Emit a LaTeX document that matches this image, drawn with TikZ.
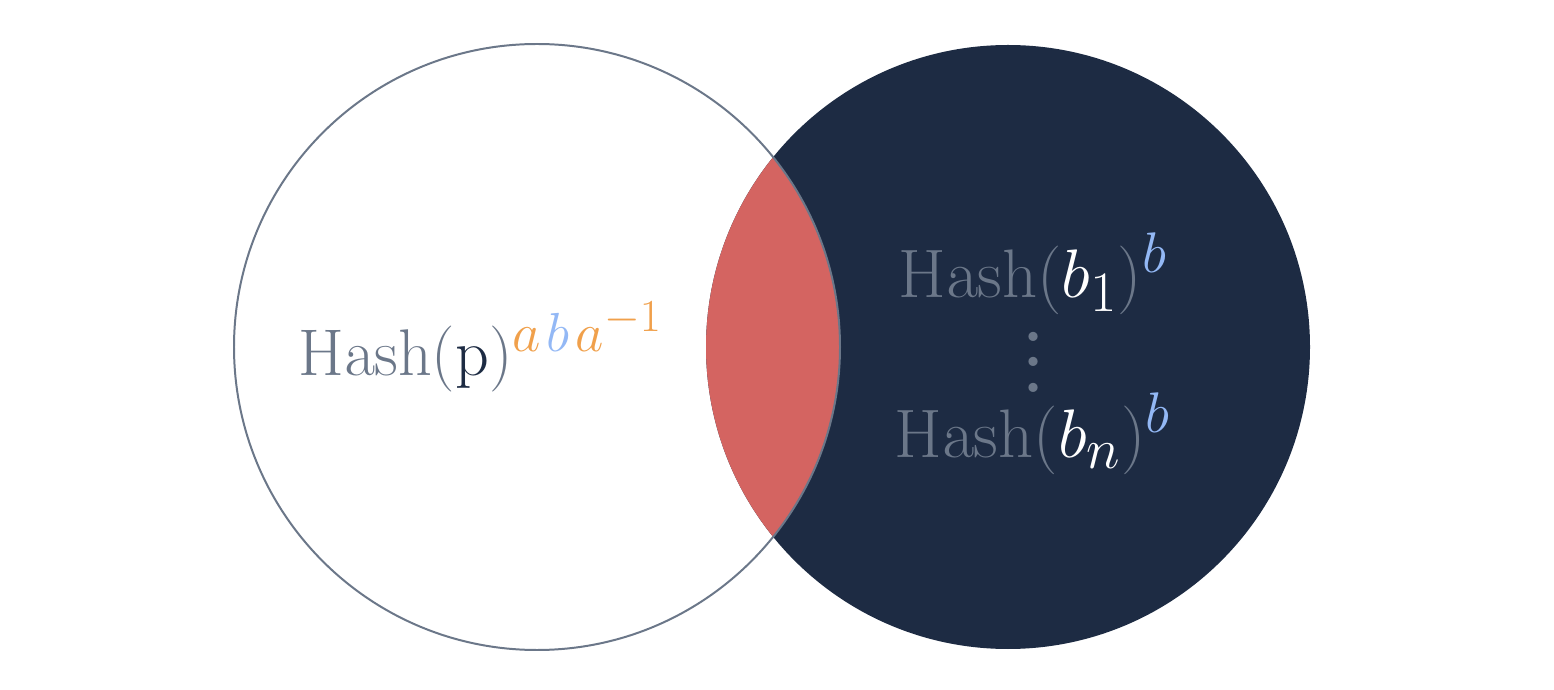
\documentclass[tikz,border=0pt]{standalone}
\usepackage{amsmath}
\usepackage{graphicx}
\usetikzlibrary{positioning}
\definecolor{navy}{RGB}{29,43,67}
\definecolor{slate}{RGB}{107,119,137}
\definecolor{lensred}{RGB}{212,100,97}
\definecolor{expor}{RGB}{240,160,75}
\definecolor{expbl}{RGB}{147,184,245}
\tikzset{
  setA/.style={draw=slate, line width=0.75pt},
  setB/.style={fill=navy},
  lens/.style={fill=lensred},
  lbl/.style={font=\Huge, inner sep=0pt, align=center},
}
\newcommand{\hsh}{\textcolor{slate}{\mathrm{Hash}}}
\newcommand{\lp}{\textcolor{slate}{(}}
\newcommand{\rp}{\textcolor{slate}{)}}
\newcommand{\bigdot}{\hbox{\scalebox{1.7}{.}}}
\newcommand{\bigvdots}{\vbox{\baselineskip=9.6pt\lineskiplimit=-5pt\bigdot\bigdot\bigdot}}

\begin{document}
\begin{tikzpicture}[x=0.01325cm, y=-0.01325cm]
\useasboundingbox (0,0) rectangle (1554,690);

% ── Mengen ──────────────────────────────────────────────────
\coordinate (cA) at (537,347);
\coordinate (cB) at (1008,347);
\fill[setB] (cB) circle[radius=302];
\begin{scope}
  \clip (cA) circle[radius=303];
  \fill[lens] (cB) circle[radius=302];
\end{scope}
\draw[setA] (cA) circle[radius=303];

% ── Beschriftungen ──────────────────────────────────────────
\node[lbl] (hp) at (481,347) {$\hsh\lp\textcolor{navy}{\mathrm{p}}\rp^{\textcolor{expor}{a}\mkern2mu\textcolor{expbl}{b}\mkern2mu\textcolor{expor}{a^{-1}}}$};
\node[lbl, scale=1.04] (hb1) at (1033,274) {$\hsh\lp\textcolor{white}{b_1}\rp^{\textcolor{expbl}{b}}$};
\node[lbl, text=slate] (dots) at (1034,362) {\bigvdots};
\node[lbl, scale=1.04] (hbn) at (1033,434) {$\hsh\lp\textcolor{white}{b_n}\rp^{\textcolor{expbl}{b}}$};

\end{tikzpicture}
\end{document}
